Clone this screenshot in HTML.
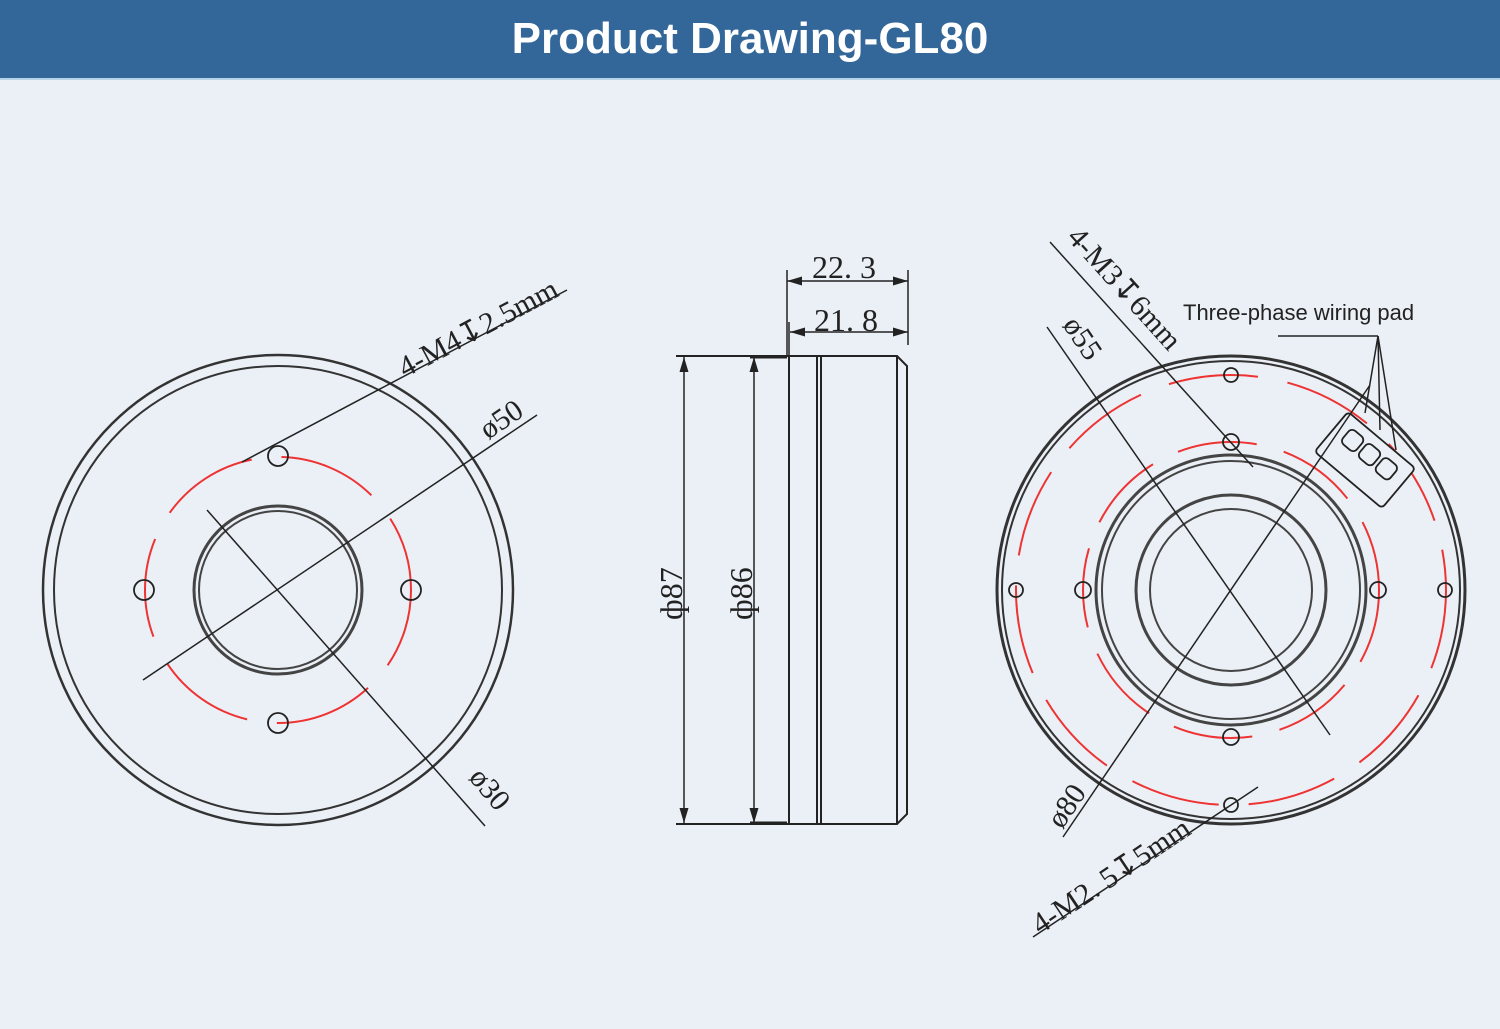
<!DOCTYPE html>
<html><head><meta charset="utf-8"><style>
body{margin:0;width:1500px;height:1029px;background:#ebf0f6;overflow:hidden}
.hd{position:absolute;left:0;top:0;width:1500px;height:78px;background:#336699;border-bottom:2px solid #b8d4ea;color:#fff;font:bold 44px "Liberation Sans",sans-serif;text-align:center;line-height:78px}
svg{position:absolute;left:0;top:0}
</style></head><body>
<div class="hd">Product Drawing-GL80</div>
<svg width="1500" height="1029" viewBox="0 0 1500 1029" font-family="Liberation Serif,serif" fill="none" stroke="#222">
<defs><marker id="a" viewBox="0 0 10 6" refX="10" refY="3" markerWidth="10" markerHeight="6" orient="auto-start-reverse"><path d="M0,0L10,3L0,6z" fill="#222" stroke="none"/></marker></defs>
<!-- LEFT -->
<g stroke-width="2">
<circle cx="278" cy="590" r="235" stroke="#333" stroke-width="2.5"/>
<circle cx="278" cy="590" r="224" stroke="#333"/>
<circle cx="278" cy="590" r="84" stroke="#444" stroke-width="3"/>
<circle cx="278" cy="590" r="79" stroke="#444"/>
<circle cx="278" cy="590" r="133" stroke="#e33" stroke-dasharray="100 30" stroke-dashoffset="20"/>
<g stroke-width="1.8"><circle cx="278" cy="456" r="10"/><circle cx="144" cy="590" r="10"/><circle cx="411" cy="590" r="10"/><circle cx="278" cy="723" r="10"/></g>
</g>
<g stroke-width="1.5">
<line x1="242" y1="462" x2="567" y2="290"/>
<line x1="143" y1="680" x2="537" y2="415"/>
<line x1="207" y1="510" x2="485" y2="826"/>
</g>
<g fill="#222" stroke="none" font-size="30">
<text transform="translate(405,378) rotate(-28)">4-M4↧2.5mm</text>
<text transform="translate(488,440) rotate(-34)">ø50</text>
<text transform="translate(468,778) rotate(50)">ø30</text>
</g>
<!-- MIDDLE -->
<g stroke-width="2">
<path d="M789,356 H897 L907,366 V814 L897,824 H789 Z"/>
<line x1="817" y1="356" x2="817" y2="824"/><line x1="821" y1="356" x2="821" y2="824"/>
<line x1="897" y1="356" x2="897" y2="824"/>
<line x1="676" y1="356" x2="789" y2="356"/><line x1="676" y1="824" x2="789" y2="824"/>
<line x1="750" y1="357" x2="787" y2="357" stroke-width="3"/><line x1="750" y1="823" x2="787" y2="823" stroke-width="3"/>
</g>
<g stroke-width="1.5">
<line x1="787" y1="270" x2="787" y2="356"/><line x1="908" y1="270" x2="908" y2="345"/>
<line x1="787" y1="281" x2="908" y2="281" marker-start="url(#a)" marker-end="url(#a)"/>
<line x1="789" y1="322" x2="789" y2="356"/>
<line x1="790" y1="332" x2="908" y2="332" marker-start="url(#a)" marker-end="url(#a)"/>
<line x1="684" y1="357" x2="684" y2="823" marker-start="url(#a)" marker-end="url(#a)"/>
<line x1="754" y1="357" x2="754" y2="823" marker-start="url(#a)" marker-end="url(#a)"/>
</g>
<g fill="#222" stroke="none" font-size="32">
<text x="812" y="278">22. 3</text>
<text x="814" y="331">21. 8</text>
<text transform="translate(682,620) rotate(-90)">ф87</text>
<text transform="translate(752,620) rotate(-90)">ф86</text>
</g>
<!-- RIGHT -->
<g stroke-width="2">
<circle cx="1231" cy="590" r="234" stroke="#333" stroke-width="3"/>
<circle cx="1231" cy="590" r="229" stroke="#333"/>
<circle cx="1231" cy="590" r="215" stroke="#e33" stroke-dasharray="90 30" stroke-dashoffset="10"/>
<circle cx="1231" cy="590" r="135" stroke="#444" stroke-width="3"/>
<circle cx="1231" cy="590" r="129" stroke="#444"/>
<circle cx="1231" cy="590" r="148" stroke="#e33" stroke-dasharray="80 28" stroke-dashoffset="5"/>
<circle cx="1231" cy="590" r="95" stroke="#444" stroke-width="3"/>
<circle cx="1231" cy="590" r="81" stroke="#444"/>
<g stroke-width="1.8"><circle cx="1231" cy="375" r="7"/><circle cx="1231" cy="805" r="7"/><circle cx="1016" cy="590" r="7"/><circle cx="1445" cy="590" r="7"/>
<circle cx="1231" cy="442" r="8"/><circle cx="1231" cy="737" r="8"/><circle cx="1083" cy="590" r="8"/><circle cx="1378" cy="590" r="8"/></g>
<g transform="translate(1365,460) rotate(40)">
<rect x="-44" y="-26" width="88" height="52" rx="4" fill="#ebf0f6" stroke-width="1.8"/>
<rect x="-31" y="-16" width="18" height="18" rx="5" stroke-width="1.8"/><rect x="-9" y="-16" width="18" height="18" rx="5" stroke-width="1.8"/><rect x="13" y="-16" width="18" height="18" rx="5" stroke-width="1.8"/>
</g>
</g>
<g stroke-width="1.5">
<line x1="1050" y1="242" x2="1253" y2="467"/>
<line x1="1047" y1="327" x2="1330" y2="735"/>
<line x1="1063" y1="837" x2="1370" y2="385"/>
<line x1="1033" y1="937" x2="1258" y2="787"/>
<line x1="1278" y1="336" x2="1378" y2="336"/>
<line x1="1378" y1="336" x2="1365" y2="413"/><line x1="1378" y1="336" x2="1380" y2="430"/><line x1="1378" y1="336" x2="1396" y2="450"/>
</g>
<g fill="#222" stroke="none" font-size="30">
<text transform="translate(1066,238) rotate(48)">4-M3↧6mm</text>
<text transform="translate(1062,325) rotate(56)">ø55</text>
<text transform="translate(1062,830) rotate(-56)">ø80</text>
<text transform="translate(1040,935) rotate(-33.7)">4-M2. 5↧5mm</text>
<text x="1183" y="320" font-family="Liberation Sans,sans-serif" font-size="22">Three-phase wiring pad</text>
</g>
</svg>
</body></html>
